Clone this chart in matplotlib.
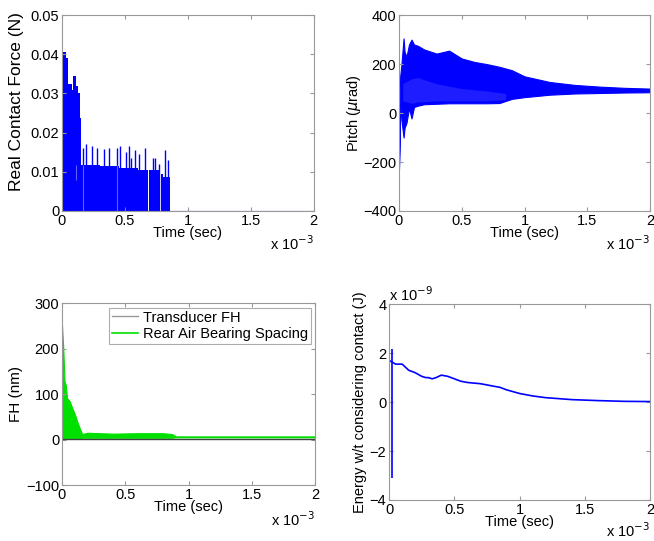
import matplotlib.pyplot as plt

plt.rcParams['font.family'] = ['Liberation Sans', 'DejaVu Sans']
plt.rcParams['font.size'] = 10.5

# ---- data (time in units of 1e-3 s) ----
# real contact force: step envelope of the dense spikes
force_t = [0.0, 0.004, 0.008, 0.03, 0.05, 0.08, 0.09, 0.11, 0.13, 0.14, 0.15,
           0.3, 0.45, 0.6, 0.68, 0.69, 0.78, 0.79, 0.8, 0.861, 2.0]
force_v = [0.017, 0.012, 0.0405, 0.039, 0.0325, 0.031, 0.0345, 0.032, 0.030, 0.0238, 0.0118,
           0.0115, 0.011, 0.0105, 0.0, 0.0105, 0.0, 0.0095, 0.0088, 0.0, 0.0]
spike_t = [0.17, 0.19, 0.24, 0.28, 0.33, 0.37, 0.44, 0.46, 0.51, 0.53, 0.55, 0.58, 0.61, 0.66, 0.72, 0.74, 0.77, 0.82, 0.84]
spike_v = [0.016, 0.017, 0.0165, 0.016, 0.0158, 0.016, 0.016, 0.0165, 0.015, 0.0165, 0.0135, 0.0155, 0.0145, 0.0162, 0.0135, 0.0135, 0.012, 0.0155, 0.013]
gap_t = [0.11, 0.165, 0.435]
gap_v = [0.008, 0.0, 0.0]

# pitch envelope (urad)
pitch_t = [0.0, 0.005, 0.01, 0.02, 0.037, 0.045, 0.06, 0.08, 0.1, 0.12, 0.15, 0.2, 0.3, 0.4, 0.5,
           0.6, 0.7, 0.8, 0.9, 1.0, 1.2, 1.4, 1.6, 1.8, 2.0]
pitch_hi = [-234, 60, 150, 200, 305, 250, 230, 280, 300, 280, 275, 260, 243, 255, 223,
            209, 200, 189, 175, 150, 127, 115, 108, 103, 100]
pitch_lo = [-234, -150, 40, -30, -100, -60, -40, 20, -22, 25, 30, 36, 38, 40, 40,
            40, 40, 41, 58, 65, 75, 80, 82, 84, 85]
# lighter inner streak band
streak_t = [0.03, 0.1, 0.15, 0.3, 0.5, 0.7, 0.85]
streak_hi = [120, 140, 145, 120, 100, 90, 80]
streak_lo = [50, 40, 45, 50, 50, 50, 55]

# flying height (nm)
fh_t = [0.0, 0.01, 0.02, 0.03, 0.04, 0.06, 0.08, 0.1, 0.12, 0.14, 0.16, 0.2, 0.4, 0.6, 0.8, 0.87, 0.9, 2.0]
fh_hi = [252, 200, 128, 120, 91, 85, 70, 57, 40, 25, 12, 15, 13, 14, 14, 12, 7, 7]
fh_lo = [0, 2, 2, 3, 3, 3, 3, 3, 3, 3, 4, 4, 4, 4, 4, 4, 5, 5]
trans_t = [0.0, 2.0]
trans_v = [1.5, 1.5]

# energy (1e-9 J)
en_t = [0.0, 0.05, 0.1, 0.12, 0.15, 0.2, 0.25, 0.28, 0.3, 0.33, 0.36, 0.4, 0.45, 0.5, 0.55,
        0.6, 0.7, 0.8, 0.85, 0.9, 1.0, 1.1, 1.2, 1.4, 1.6, 1.8, 2.0]
en_v = [1.7, 1.55, 1.55, 1.45, 1.3, 1.2, 1.05, 1.0, 1.0, 0.95, 1.0, 1.1, 1.05, 0.95, 0.85,
        0.8, 0.75, 0.65, 0.6, 0.5, 0.35, 0.25, 0.18, 0.1, 0.06, 0.03, 0.02]
en_spike_t = 0.02
en_spike = [-3.1, 2.15]

blue = '#0000ff'
green = '#00e000'


def matlab_axes(ax, offset_y=-0.12, bottom_text=None):
    for s in ax.spines.values():
        s.set_color('0.6')
        s.set_linewidth(0.8)
    ax.tick_params(direction='in', top=True, right=True, color='0.6', length=3, labelsize=10.5, pad=2)
    ax.set_xlim(0, 2)
    ax.set_xticks([0, 0.5, 1, 1.5, 2])
    ax.set_xticklabels(['0', '0.5', '1', '1.5', '2'])
    ax.set_xlabel('Time (sec)', labelpad=-1)
    if bottom_text is None:
        ax.text(1.0, offset_y, r'x 10$^{-3}$', transform=ax.transAxes, ha='right', va='top', fontsize=10.5)
    else:
        ax.text(ax.get_position().x1, bottom_text, r'x 10$^{-3}$', transform=fig.transFigure,
                ha='right', va='bottom', fontsize=10.5)


fig = plt.figure(figsize=(6.54, 5.41), dpi=100)

ax1 = fig.add_axes([0.0948, 0.610, 0.385, 0.362])
ax1.fill_between(force_t, 0, force_v, step='post', color=blue, lw=0)
ax1.vlines(spike_t, 0, spike_v, color=blue, lw=1.0)
ax1.vlines(gap_t, gap_v, 0.0118, color='#6060ff', lw=0.8)
ax1.plot([0, 2], [0, 0], color=blue, lw=0.8)
ax1.set_ylim(0, 0.05)
ax1.set_yticks([0, 0.01, 0.02, 0.03, 0.04, 0.05])
ax1.set_yticklabels(['0', '0.01', '0.02', '0.03', '0.04', '0.05'])
ax1.set_ylabel('Real Contact Force (N)', fontsize=12.5)
ax1.yaxis.set_label_coords(-0.15, 0.56)
matlab_axes(ax1)

ax2 = fig.add_axes([0.610, 0.610, 0.384, 0.362])
ax2.fill_between(pitch_t, pitch_lo, pitch_hi, color=blue, lw=0.8, edgecolor=blue)
ax2.fill_between(streak_t, streak_lo, streak_hi, color='#4a4aff', lw=0, alpha=0.4)
ax2.set_ylim(-400, 400)
ax2.set_yticks([-400, -200, 0, 200, 400])
ax2.set_ylabel(r'Pitch ($\mu$rad)', labelpad=0)
matlab_axes(ax2)

ax3 = fig.add_axes([0.0948, 0.1035, 0.387, 0.336])
ax3.plot(trans_t, trans_v, color='0.25', lw=1.0, label='Transducer FH')
ax3.fill_between(fh_t, fh_lo, fh_hi, color=green, lw=0.8, edgecolor=green)
ax3.plot([], [], color=green, lw=1.2, label='Rear Air Bearing Spacing')
ax3.set_ylim(-100, 300)
ax3.set_yticks([-100, 0, 100, 200, 300])
ax3.set_ylabel('FH (nm)', fontsize=11, labelpad=2)
leg = ax3.legend(loc='upper right', fontsize=10.5, frameon=True, fancybox=False,
                 handlelength=1.8, handletextpad=0.3, borderpad=0.2, labelspacing=0.2,
                 borderaxespad=0.3)
leg.get_frame().set_edgecolor('0.6')
leg.get_frame().set_linewidth(0.8)
leg.get_lines()[0].set_color('0.6')
matlab_axes(ax3, offset_y=-0.14)

ax4 = fig.add_axes([0.595, 0.0758, 0.399, 0.362])
ax4.plot(en_t, en_v, color=blue, lw=1.2)
ax4.vlines([en_spike_t], en_spike[0], en_spike[1], color=blue, lw=1.2)
ax4.set_ylim(-4, 4)
ax4.set_yticks([-4, -2, 0, 2, 4])
ax4.set_ylabel('Energy w/t considering contact (J)', labelpad=2)
ax4.text(0.0, 1.0, r'x 10$^{-9}$', transform=ax4.transAxes, ha='left', va='bottom', fontsize=10.5)
matlab_axes(ax4, bottom_text=0.002)

fig.savefig('out.png', dpi=100)
